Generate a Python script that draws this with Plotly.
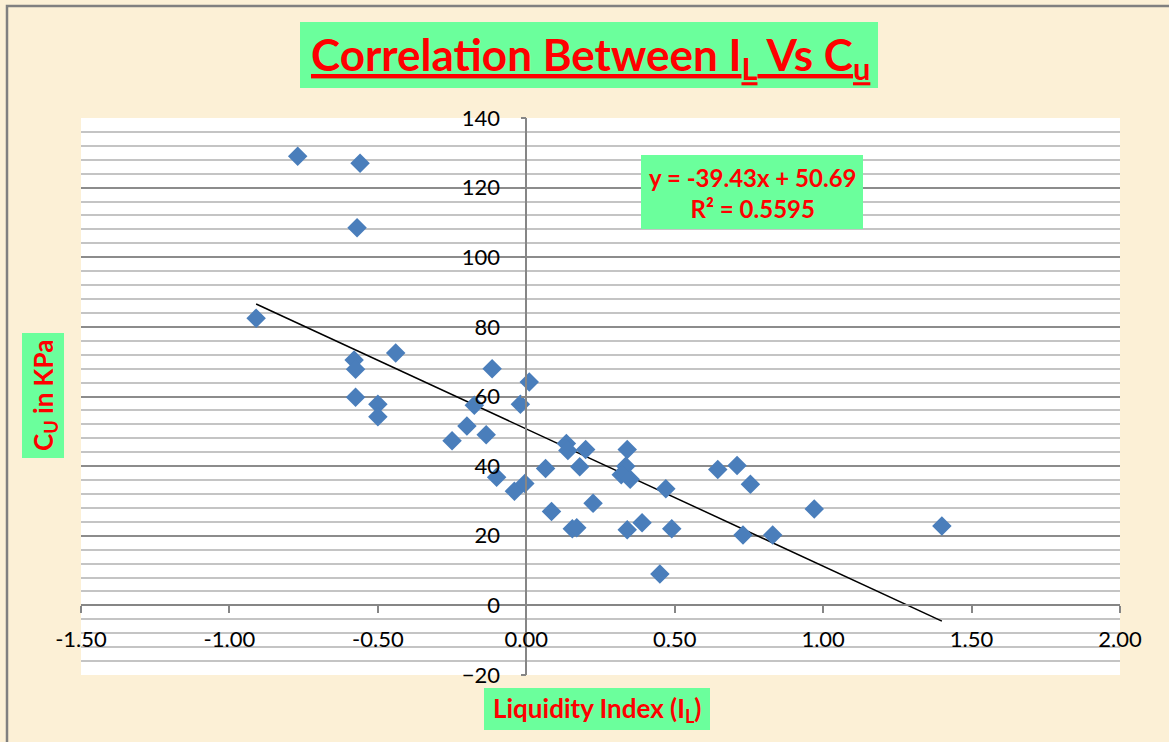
import plotly.graph_objects as go
import numpy as np

# Data
liquidity_index = [-0.77, -0.56, -0.57, -0.91, -0.58, -0.575, -0.44, -0.575, -0.50, -0.50,
                   -0.115, 0.01, -0.175, -0.02, -0.20, -0.25, -0.135, -0.10, -0.04, -0.005,
                   0.065, 0.085, 0.135, 0.14, 0.20, 0.18, 0.225, 0.155, 0.17, 0.34,
                   0.335, 0.32, 0.35, 0.34, 0.39, 0.45, 0.47, 0.49, 0.645, 0.71,
                   0.755, 0.73, 0.83, 0.97, 1.40]
cu_kpa = [129.0, 127.0, 108.5, 82.5, 70.5, 67.8, 72.5, 59.8, 57.8, 54.2,
          68.0, 64.2, 57.5, 57.8, 51.5, 47.3, 49.0, 36.8, 32.8, 35.0,
          39.3, 27.0, 46.5, 44.5, 44.8, 39.8, 29.3, 22.0, 22.3, 44.8,
          40.0, 37.5, 36.2, 21.7, 23.7, 9.0, 33.5, 22.0, 39.0, 40.2,
          34.8, 20.2, 20.2, 27.7, 22.8]

slope = -39.43
intercept = 50.69
r_squared = 0.5595

x_ticks = [-1.5, -1.0, -0.5, 0.0, 0.5, 1.0, 1.5, 2.0]
x_tick_labels = ["-1.50", "-1.00", "-0.50", "0.00", "0.50", "1.00", "1.50", "2.00"]
y_ticks = [-20, 0, 20, 40, 60, 80, 100, 120, 140]

W, H = 1169, 742
L, R, T, B = 81, 49, 118, 67
pw, ph = W - L - R, H - T - B

def px(x):
    return (x - L) / pw

def py(y):
    return (H - B - y) / ph

GREEN = "#6BFF9C"
RED = "#FF0000"
FONT = "Lato"

fig = go.Figure()

x_fit = np.array([min(liquidity_index), max(liquidity_index)])
y_fit = slope * x_fit + intercept
fig.add_trace(go.Scatter(x=x_fit, y=y_fit, mode="lines",
                         line=dict(color="black", width=1.5), hoverinfo="skip"))
fig.add_trace(go.Scatter(x=liquidity_index, y=cu_kpa, mode="markers",
                         marker=dict(symbol="diamond", size=15, color="#4A7EBB",
                                     line=dict(width=0))))

xr = [-1.5, 2.0]
yr = [-20, 140]
ypos = (0 - xr[0]) / (xr[1] - xr[0])
xpos = (0 - yr[0]) / (yr[1] - yr[0])

fig.update_layout(
    width=W, height=H,
    margin=dict(l=L, r=R, t=T, b=B),
    paper_bgcolor="#FCF0D6",
    plot_bgcolor="white",
    showlegend=False,
    font=dict(family=FONT, color="black", size=22),
    xaxis=dict(range=xr, tickvals=x_ticks, ticktext=x_tick_labels,
               showgrid=False, zeroline=False, showline=True, linecolor="#868686",
               linewidth=1.5, anchor="free", position=xpos,
               ticks="outside", ticklen=7, tickcolor="#868686", tickwidth=1.5,
               ticklabelstandoff=7, tickfont=dict(size=22, family=FONT)),
    yaxis=dict(range=yr, tickvals=y_ticks, showgrid=True, gridcolor="#8C8C8C",
               gridwidth=1.5, zeroline=False, showline=True, linecolor="#868686",
               linewidth=1.5, anchor="free", position=ypos,
               ticks="outside", ticklen=5, tickcolor="#868686", tickwidth=1.5,
               ticklabelstandoff=16, tickfont=dict(size=22, family=FONT),
               minor=dict(dtick=4, showgrid=True, gridcolor="#C4C4C4", gridwidth=1.5)),
)

shapes = []
# outer border
shapes.append(dict(type="rect", xref="paper", yref="paper",
                   x0=px(7), x1=px(W + 5), y0=py(6), y1=py(H + 5),
                   line=dict(color="#808080", width=2.5), fillcolor="rgba(0,0,0,0)"))
# title box
shapes.append(dict(type="rect", xref="paper", yref="paper",
                   x0=px(300), x1=px(878), y0=py(22), y1=py(88),
                   line=dict(width=0), fillcolor=GREEN))
# equation box
shapes.append(dict(type="rect", xref="paper", yref="paper",
                   x0=px(641), x1=px(863), y0=py(155), y1=py(229),
                   line=dict(width=0), fillcolor=GREEN))
# y title box
shapes.append(dict(type="rect", xref="paper", yref="paper",
                   x0=px(22), x1=px(64), y0=py(333), y1=py(458),
                   line=dict(width=0), fillcolor=GREEN))
# x title box
shapes.append(dict(type="rect", xref="paper", yref="paper",
                   x0=px(484), x1=px(710), y0=py(688), y1=py(730),
                   line=dict(width=0), fillcolor=GREEN))
fig.update_layout(shapes=shapes)

UL = '<span style="text-decoration:underline">'
annotations = [
    dict(text=f"<b>{UL}Correlation Between I<sub>L</sub> Vs C<sub>u</sub></span></b>",
         x=px(590), y=py(57), xref="paper", yref="paper", showarrow=False,
         font=dict(family=FONT, size=44, color=RED), xanchor="center", yanchor="middle"),
    dict(text=f"<b>y = {slope:.2f}x + {intercept:.2f}<br>R² = {r_squared:.4f}</b>",
         x=px(752), y=py(193), xref="paper", yref="paper", showarrow=False,
         font=dict(family=FONT, size=24, color=RED), xanchor="center", yanchor="middle",
         align="center"),
    dict(text="<b>C<sub>U</sub> in KPa</b>", textangle=-90,
         x=px(44), y=py(396), xref="paper", yref="paper", showarrow=False,
         font=dict(family=FONT, size=26, color=RED), xanchor="center", yanchor="middle"),
    dict(text="<b>Liquidity Index (I<sub>L</sub>)</b>",
         x=px(597), y=py(709), xref="paper", yref="paper", showarrow=False,
         font=dict(family=FONT, size=26, color=RED), xanchor="center", yanchor="middle"),
]
fig.update_layout(annotations=annotations)

fig.write_html("out.html", config={"displayModeBar": False},
               post_script="document.body.style.margin='0px';")
